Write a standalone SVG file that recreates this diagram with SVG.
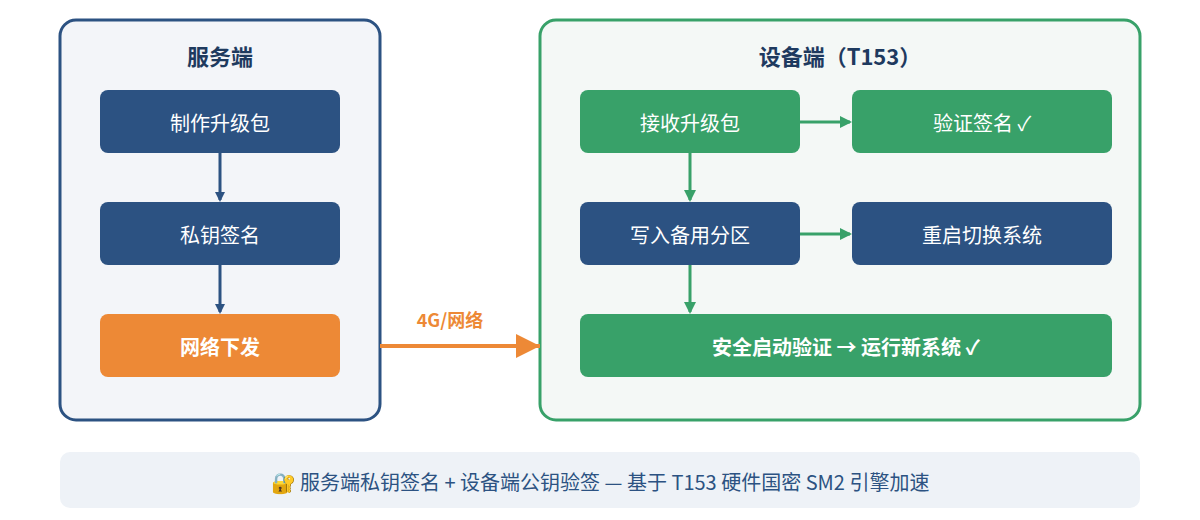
<svg xmlns="http://www.w3.org/2000/svg" width="1200" height="520" viewBox="0 0 1200 520">
<style>
text{font-family:"Noto Sans CJK SC","Noto Sans",sans-serif;text-anchor:middle;dominant-baseline:central}
.t{fill:#fff;font-size:20px}
.b{fill:#2c5282}.g{fill:#38a169}.o{fill:#ed8936}
.h{font-size:22px;font-weight:bold;fill:#1e3a5f}
</style>
<defs>
<marker id="ab" markerWidth="10" markerHeight="10" refX="8" refY="5" orient="auto" markerUnits="userSpaceOnUse"><path d="M0,0L10,5L0,10z" fill="#2c5282"/></marker>
<marker id="ag" markerWidth="12" markerHeight="12" refX="10" refY="6" orient="auto" markerUnits="userSpaceOnUse"><path d="M0,0L12,6L0,12z" fill="#38a169"/></marker>
<marker id="ao" markerWidth="26" markerHeight="24" refX="24" refY="12" orient="auto" markerUnits="userSpaceOnUse"><path d="M0,0L24,12L0,24z" fill="#ed8936"/></marker>
</defs>
<rect x="0" y="0" width="1200" height="520" fill="#fff"/>
<g id="server"><rect x="60" y="20" width="320" height="400" rx="16" fill="#f3f5f9" stroke="#2c5282" stroke-width="3"/><text x="220" y="55" class="h">服务端</text></g>
<g id="device"><rect x="540" y="20" width="600" height="400" rx="16" fill="#f4f8f6" stroke="#38a169" stroke-width="3"/><text x="840" y="55" class="h">设备端（T153）</text></g>
<g id="n1"><rect x="100" y="90" width="240" height="63" rx="8" class="b"/><text x="220" y="122" class="t">制作升级包</text></g>
<g id="n2"><rect x="100" y="202" width="240" height="63" rx="8" class="b"/><text x="220" y="234" class="t">私钥签名</text></g>
<g id="n3"><rect x="100" y="314" width="240" height="63" rx="8" class="o"/><text x="220" y="346" class="t" font-weight="bold">网络下发</text></g>
<g id="d1"><rect x="580" y="90" width="220" height="63" rx="8" class="g"/><text x="690" y="122" class="t">接收升级包</text></g>
<g id="d2"><rect x="852" y="90" width="260" height="63" rx="8" class="g"/><text x="982" y="122" class="t">验证签名 ✓</text></g>
<g id="d3"><rect x="580" y="202" width="220" height="63" rx="8" class="b"/><text x="690" y="234" class="t">写入备用分区</text></g>
<g id="d4"><rect x="852" y="202" width="260" height="63" rx="8" class="b"/><text x="982" y="234" class="t">重启切换系统</text></g>
<g id="d5"><rect x="580" y="314" width="532" height="63" rx="8" class="g"/><text x="846" y="346" class="t" font-weight="bold">安全启动验证 → 运行新系统 ✓</text></g>
<g id="connectors" stroke-width="3" fill="none">
<line x1="220" y1="153" x2="220" y2="200" stroke="#2c5282" marker-end="url(#ab)"/>
<line x1="220" y1="265" x2="220" y2="312" stroke="#2c5282" marker-end="url(#ab)"/>
<line x1="690" y1="153" x2="690" y2="200" stroke="#38a169" marker-end="url(#ag)"/>
<line x1="690" y1="265" x2="690" y2="312" stroke="#38a169" marker-end="url(#ag)"/>
<line x1="800" y1="122" x2="850" y2="122" stroke="#38a169" marker-end="url(#ag)"/>
<line x1="800" y1="234" x2="850" y2="234" stroke="#38a169" marker-end="url(#ag)"/>
<line x1="380" y1="346" x2="540" y2="346" stroke="#ed8936" stroke-width="4" marker-end="url(#ao)"/>
<text x="450" y="319" fill="#ed8936" stroke="none" font-size="18" font-weight="bold">4G/网络</text>
</g>
<g id="note"><rect x="60" y="452" width="1080" height="56" rx="10" fill="#eef2f7"/><text x="600" y="481" font-size="20" fill="#2c5282">🔐 服务端私钥签名 + 设备端公钥验签 — 基于 T153 硬件国密 SM2 引擎加速</text></g>
</svg>
